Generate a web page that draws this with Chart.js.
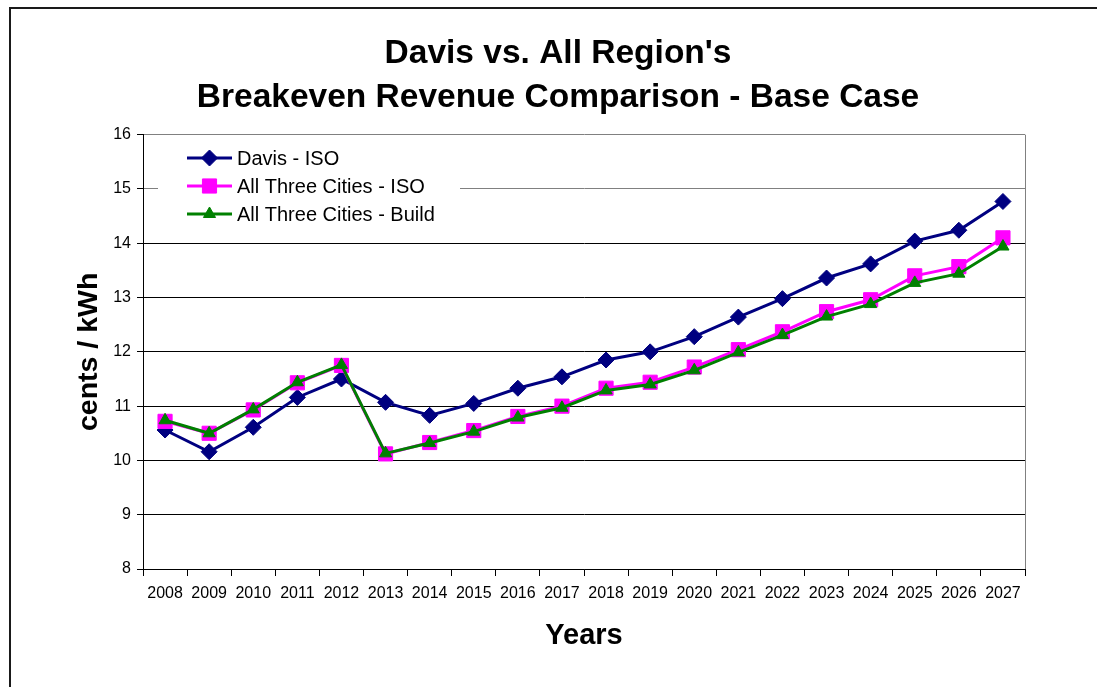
<!DOCTYPE html>
<html>
<head>
<meta charset="utf-8">
<title>Davis vs. All Region's Breakeven Revenue Comparison</title>
<script src="https://cdn.jsdelivr.net/npm/chart.js@4.4.1/dist/chart.umd.min.js"></script>
<style>
  html, body { margin: 0; padding: 0; background: #fff; }
  #chart { display: block; }
</style>
</head>
<body>
<canvas id="chart" width="1097" height="687"></canvas>
<script>
//years on the x axis
var years = ['2008','2009','2010','2011','2012','2013','2014','2015','2016','2017',
             '2018','2019','2020','2021','2022','2023','2024','2025','2026','2027'];

//breakeven revenue, cents / kWh
var davisIso    = [10.56, 10.16, 10.61, 11.16, 11.50, 11.07, 10.83, 11.05, 11.33, 11.54,
                   11.85, 12.00, 12.28, 12.64, 12.98, 13.36, 13.62, 14.04, 14.24, 14.77];
var citiesIso   = [10.72, 10.50, 10.93, 11.43, 11.75, 10.12, 10.33, 10.55, 10.81, 11.00,
                   11.33, 11.44, 11.72, 12.04, 12.37, 12.74, 12.96, 13.40, 13.57, 14.10];
var citiesBuild = [10.74, 10.50, 10.94, 11.44, 11.76, 10.13, 10.32, 10.53, 10.79, 10.97,
                   11.29, 11.40, 11.66, 11.99, 12.31, 12.65, 12.88, 13.27, 13.44, 13.94];

//y axis range
var yMin = 8, yMax = 16, yStep = 1;

var FONT = "'Liberation Sans', Arial, Helvetica, sans-serif";

//series look (line colour + marker)
var seriesStyle = [
  {label: 'Davis - ISO',              color: '#000080', pointStyle: 'rectRot',  radius: 8},
  {label: 'All Three Cities - ISO',   color: '#FF00FF', pointStyle: 'rect',     radius: 10},
  {label: 'All Three Cities - Build', color: '#008000', pointStyle: 'triangle', radius: 7}
];
var seriesData = [davisIso, citiesIso, citiesBuild];

//outer frame + right edge of the plot
var framePlugin = {
  id: 'frame',
  beforeDraw: function(chart) {
    var ctx = chart.ctx;
    ctx.save();
    ctx.fillStyle = '#fff';
    ctx.fillRect(0, 0, chart.width, chart.height);
    ctx.strokeStyle = '#1a1a1a';
    ctx.lineWidth = 2;
    ctx.beginPath();
    ctx.moveTo(10, chart.height);
    ctx.lineTo(10, 8);
    ctx.lineTo(chart.width, 8);
    ctx.stroke();
    ctx.restore();
  },
  afterDraw: function(chart) {
    var a = chart.chartArea, ctx = chart.ctx;
    ctx.save();
    ctx.strokeStyle = '#808080';
    ctx.lineWidth = 1;
    ctx.beginPath();
    ctx.moveTo(Math.round(a.right) + 0.5, a.top);
    ctx.lineTo(Math.round(a.right) + 0.5, a.bottom);
    ctx.stroke();
    ctx.restore();
  }
};

//legend sits inside the plot, top left, on a white patch
var insideLegend = {
  id: 'insideLegend',
  afterDatasetsDraw: function(chart) {
    var ctx = chart.ctx;
    var x0 = 187, x1 = 232, rows = [158, 186, 214];
    ctx.save();
    ctx.fillStyle = '#fff';
    ctx.fillRect(158, 142, 302, 86);
    ctx.font = '20px ' + FONT;
    ctx.textBaseline = 'middle';
    for (var i = 0; i < seriesStyle.length; i++) {
      var s = seriesStyle[i], y = rows[i];
      ctx.strokeStyle = s.color;
      ctx.lineWidth = 3;
      ctx.beginPath();
      ctx.moveTo(x0, y);
      ctx.lineTo(x1, y);
      ctx.stroke();
      ctx.fillStyle = s.color;
      ctx.lineWidth = 1;
      Chart.helpers.drawPoint(ctx, {pointStyle: s.pointStyle, radius: s.radius, borderWidth: 1, rotation: 0},
                              (x0 + x1) / 2, y);
      ctx.fillStyle = '#000';
      ctx.fillText(s.label, 237, y + 1);
    }
    ctx.restore();
  }
};

var datasets = [];
for (var i = 0; i < seriesStyle.length; i++) {
  var s = seriesStyle[i];
  datasets.push({
    label: s.label,
    data: seriesData[i],
    borderColor: s.color,
    backgroundColor: s.color,
    borderWidth: 3,
    pointStyle: s.pointStyle,
    pointRadius: s.radius,
    pointHoverRadius: s.radius,
    pointBorderWidth: 1,
    pointBorderColor: s.color,
    pointBackgroundColor: s.color,
    tension: 0,
    order: seriesStyle.length - 1 - i   //later series drawn on top
  });
}

new Chart(document.getElementById('chart'), {
  type: 'line',
  data: {labels: years, datasets: datasets},
  plugins: [framePlugin, insideLegend],
  options: {
    responsive: false,
    animation: false,
    devicePixelRatio: 1,
    //title is centred on the whole canvas, the plot keeps a 72px gutter on the right (y2)
    layout: {padding: {left: 19, right: 0, top: 12, bottom: 0}},
    plugins: {
      legend: {display: false},
      tooltip: {enabled: false},
      title: {
        display: true,
        text: ["Davis vs. All Region's", 'Breakeven Revenue Comparison - Base Case'],
        color: '#000',
        font: {family: FONT, size: 33.5, weight: 'bold', lineHeight: 44 / 33.5},
        padding: {top: 20, bottom: 14.7}
      }
    },
    scales: {
      x: {
        offset: true,
        afterFit: function(scale) { scale.height = 118; },
        grid: {
          display: true, offset: true, drawOnChartArea: false, drawTicks: true,
          tickLength: 7, color: '#000', tickColor: '#000'
        },
        border: {display: true, color: '#000', width: 1},
        ticks: {color: '#000', font: {family: FONT, size: 16}, padding: 8, maxRotation: 0, autoSkip: false},
        title: {
          display: true, text: 'Years', color: '#000',
          font: {family: FONT, size: 29, weight: 'bold'}, padding: {top: 0, bottom: 34}
        }
      },
      y: {
        min: yMin, max: yMax,
        afterFit: function(scale) { scale.width = 124; },
        grid: {
          drawTicks: true, tickLength: 6,
          color: function(c) { return (c.tick && c.tick.value >= 15) ? '#808080' : '#000'; },
          tickColor: '#000'
        },
        border: {display: true, color: '#000', width: 1},
        ticks: {stepSize: yStep, color: '#000', font: {family: FONT, size: 16}, padding: 6},
        title: {
          display: true, text: 'cents / kWh', color: '#000',
          font: {family: FONT, size: 28.5, weight: 'bold'}, padding: {top: 53, bottom: 0}
        }
      },
      //empty gutter on the right of the plot
      y2: {
        position: 'right',
        afterFit: function(scale) { scale.width = 72; },
        grid: {display: false},
        border: {display: false},
        ticks: {display: false}
      }
    }
  }
});
</script>
</body>
</html>
